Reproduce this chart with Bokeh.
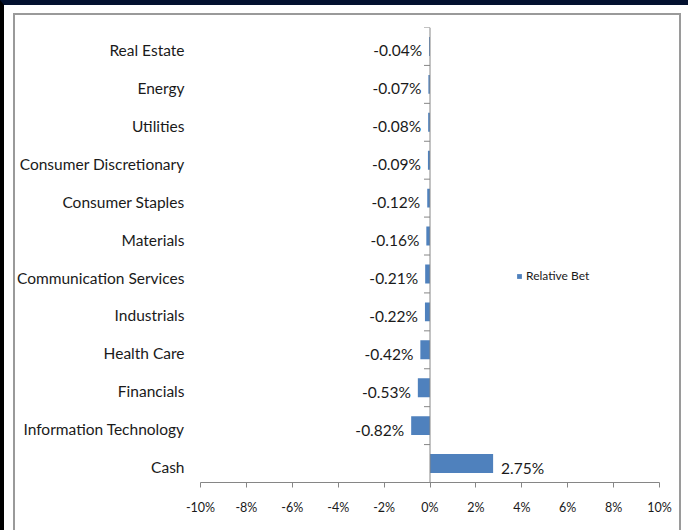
from bokeh.plotting import figure
from bokeh.models import (Range1d, FixedTicker, PrintfTickFormatter, Span,
                          ColumnDataSource, Legend, LegendItem, InlineStyleSheet)
from bokeh.embed import file_html
from bokeh.resources import INLINE
from bokeh.core.properties import value

# ---- data (top to bottom as shown) ----
sectors = ["Real Estate", "Energy", "Utilities", "Consumer Discretionary", "Consumer Staples",
           "Materials", "Communication Services", "Industrials", "Health Care", "Financials",
           "Information Technology", "Cash"]
relative_bet = [-0.04, -0.07, -0.08, -0.09, -0.12, -0.16, -0.21, -0.22, -0.42, -0.53, -0.82, 2.75]
x_ticks = [-10, -8, -6, -4, -2, 0, 2, 4, 6, 8, 10]
series_name = "Relative Bet"

FONT = "Lato"
BAR = "#4f81bd"
AX = "#868686"
TXT = "#1a1a1a"

n = len(sectors)
ypos = [n - 1 - i for i in range(n)]  # top item at highest position

W, H = 688, 530
ML, MR, MT, MB = 200, 29, 27, 48
p = figure(width=W, height=H, min_border_left=ML, min_border_right=MR,
           min_border_top=MT, min_border_bottom=MB,
           x_range=Range1d(x_ticks[0], x_ticks[-1]), y_range=Range1d(-0.5, n - 0.5),
           output_backend="svg", toolbar_location=None, background_fill_color="white",
           border_fill_color="white")
p.outline_line_color = None
p.grid.visible = False
FW = W - ML - MR

src = ColumnDataSource(dict(y=ypos, v=relative_bet, name=sectors))
bars = p.hbar(y="y", right="v", left=0, height=0.5, source=src, fill_color=BAR, line_color=None)

# data labels
neg = [i for i, v in enumerate(relative_bet) if v < 0]
pos = [i for i, v in enumerate(relative_bet) if v >= 0]
for idx, align, off in ((neg, "right", -7), (pos, "left", 8)):
    s = ColumnDataSource(dict(y=[ypos[i] for i in idx], v=[relative_bet[i] for i in idx],
                              t=[f"{relative_bet[i]:.2f}%" for i in idx]))
    p.text(x="v", y="y", text="t", source=s, text_align=align, text_baseline="middle",
           x_offset=off, y_offset=4, text_font=value(FONT), text_font_size="15.5px", text_color=TXT)

# vertical zero axis with category-boundary ticks on its left
p.add_layout(Span(location=0, dimension="height", line_color=AX, line_width=1))
tick_len = 6 * (x_ticks[-1] - x_ticks[0]) / FW
bounds = [k - 0.5 for k in range(n + 1)]
p.segment(x0=[-tick_len] * len(bounds), x1=[0] * len(bounds), y0=bounds, y1=bounds,
          line_color=AX, line_width=1)

# x axis
xa = p.xaxis[0]
xa.ticker = FixedTicker(ticks=x_ticks)
xa.formatter = PrintfTickFormatter(format="%d%%")
xa.axis_line_color = AX
xa.major_tick_line_color = AX
xa.major_tick_out = 5
xa.major_tick_in = 0
xa.minor_tick_line_color = None
xa.major_label_text_font = FONT
xa.major_label_text_font_size = "12.5px"
xa.major_label_text_color = TXT
xa.major_label_standoff = 12

# y axis (category labels), label anchors nudged slightly below band centres
ya = p.yaxis[0]
lab_pos = [yy - 0.09375 for yy in ypos]
ya.ticker = FixedTicker(ticks=lab_pos)
ya.major_label_overrides = {yy: nm for yy, nm in zip(lab_pos, sectors)}
ya.axis_line_color = None
ya.major_tick_line_color = None
ya.minor_tick_line_color = None
ya.major_label_text_font = FONT
ya.major_label_text_font_size = "15.5px"
ya.major_label_text_color = TXT
ya.major_label_standoff = 10

# legend
leg = Legend(items=[LegendItem(label=series_name, renderers=[bars])], location=(316, 199),
             glyph_width=6, glyph_height=6, label_height=14, label_standoff=4,
             label_text_font=FONT, label_text_font_size="12px", label_text_color=TXT,
             border_line_color=None, background_fill_alpha=0, padding=0, margin=0, spacing=0)
p.add_layout(leg)

# page decoration: grey frame round the chart, dark bands at the top and left edges
css = """
:host::before { content: ""; position: absolute; left: 13px; top: 13px; width: 668px; height: 517px;
  border-top: 2px solid #9a9a9a; border-left: 2px solid #9a9a9a; border-right: 2px solid #9a9a9a;
  box-sizing: border-box; pointer-events: none; z-index: 100; }
:host::after { content: ""; position: absolute; left: 0; top: 0; width: 688px; height: 530px;
  border-top: 5px solid #03112f; border-left: 4px solid #000000;
  box-sizing: border-box; pointer-events: none; z-index: 101; }
"""
p.styles = {"position": "relative"}
p.stylesheets = [InlineStyleSheet(css=css)]

open("out.html", "w").write(file_html(p, INLINE))
